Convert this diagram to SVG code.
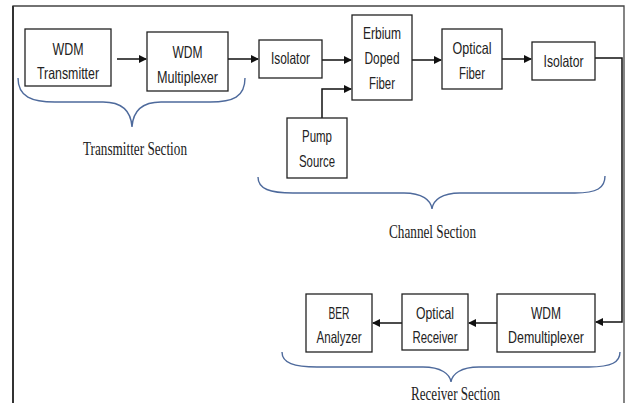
<svg xmlns="http://www.w3.org/2000/svg" width="627" height="403" viewBox="0 0 627 403">
<style>
.box{fill:#fff;stroke:#222;stroke-width:1.3}
.t{font-family:"Liberation Sans Narrow","Liberation Sans",Arial,sans-serif;font-size:16.5px;fill:#222;text-anchor:middle}
.s{font-family:"Liberation Serif","Times New Roman",serif;font-size:18px;fill:#222;text-anchor:middle}
.c{fill:none;stroke:#111;stroke-width:1.5}
.br{fill:none;stroke:#4e6a9c;stroke-width:1.4}
</style>
<defs>
<marker id="ah" markerWidth="8" markerHeight="8" refX="7" refY="4" orient="auto" markerUnits="userSpaceOnUse">
<path d="M0,0 L8,4 L0,8 Z" fill="#111"/>
</marker>
</defs>
<rect width="627" height="403" fill="#fff"/>
<g id="frame">
<path d="M13,403 L13,6 L624,6 L624,403" fill="none" stroke="#444" stroke-width="1.3"/>
<line x1="13" y1="6" x2="13" y2="403" stroke="#333" stroke-width="2"/>
</g>
<g id="connectors">
<line class="c" x1="117" y1="59" x2="146" y2="59" marker-end="url(#ah)"/>
<line class="c" x1="228" y1="59" x2="258" y2="59" marker-end="url(#ah)"/>
<line class="c" x1="322" y1="60" x2="351" y2="60" marker-end="url(#ah)"/>
<polyline class="c" points="322,118 322,89 351,89" marker-end="url(#ah)"/>
<line class="c" x1="412" y1="60" x2="441" y2="60" marker-end="url(#ah)"/>
<line class="c" x1="502" y1="59" x2="531" y2="59" marker-end="url(#ah)"/>
<polyline class="c" points="595,58 622,58 622,322 596,322" marker-end="url(#ah)"/>
<line class="c" x1="497" y1="323" x2="469" y2="323" marker-end="url(#ah)"/>
<line class="c" x1="402" y1="323" x2="373" y2="323" marker-end="url(#ah)"/>
</g>
<g id="wdm-transmitter">
<rect class="box" x="25" y="29" width="86" height="57"/>
<text class="t" x="68" y="55" textLength="31" lengthAdjust="spacingAndGlyphs">WDM</text>
<text class="t" x="68" y="79" textLength="62" lengthAdjust="spacingAndGlyphs">Transmitter</text>
</g>
<g id="wdm-multiplexer">
<rect class="box" x="147" y="32" width="81" height="59"/>
<text class="t" x="187.5" y="57.5" textLength="30" lengthAdjust="spacingAndGlyphs">WDM</text>
<text class="t" x="187.5" y="83" textLength="61" lengthAdjust="spacingAndGlyphs">Multiplexer</text>
</g>
<g id="isolator-1">
<rect class="box" x="259" y="40" width="63" height="38"/>
<text class="t" x="290.5" y="64" textLength="39" lengthAdjust="spacingAndGlyphs">Isolator</text>
</g>
<g id="erbium-doped-fiber">
<rect class="box" x="352" y="15" width="60" height="85"/>
<text class="t" x="382" y="39" textLength="38" lengthAdjust="spacingAndGlyphs">Erbium</text>
<text class="t" x="382" y="64" textLength="35" lengthAdjust="spacingAndGlyphs">Doped</text>
<text class="t" x="382" y="89" textLength="26" lengthAdjust="spacingAndGlyphs">Fiber</text>
</g>
<g id="optical-fiber">
<rect class="box" x="442" y="29" width="60" height="60"/>
<text class="t" x="472" y="54" textLength="39" lengthAdjust="spacingAndGlyphs">Optical</text>
<text class="t" x="472" y="79" textLength="26" lengthAdjust="spacingAndGlyphs">Fiber</text>
</g>
<g id="isolator-2">
<rect class="box" x="532" y="42" width="63" height="38"/>
<text class="t" x="563.5" y="67" textLength="40" lengthAdjust="spacingAndGlyphs">Isolator</text>
</g>
<g id="pump-source">
<rect class="box" x="287" y="118" width="60" height="60"/>
<text class="t" x="317" y="142" textLength="30" lengthAdjust="spacingAndGlyphs">Pump</text>
<text class="t" x="317" y="167" textLength="36" lengthAdjust="spacingAndGlyphs">Source</text>
</g>
<g id="ber-analyzer">
<rect class="box" x="306" y="294" width="66" height="58"/>
<text class="t" x="339" y="319" textLength="21" lengthAdjust="spacingAndGlyphs">BER</text>
<text class="t" x="339" y="343" textLength="45" lengthAdjust="spacingAndGlyphs">Analyzer</text>
</g>
<g id="optical-receiver">
<rect class="box" x="402" y="294" width="66" height="56"/>
<text class="t" x="435" y="319" textLength="38" lengthAdjust="spacingAndGlyphs">Optical</text>
<text class="t" x="435" y="343" textLength="45" lengthAdjust="spacingAndGlyphs">Receiver</text>
</g>
<g id="wdm-demultiplexer">
<rect class="box" x="497" y="294" width="98" height="58"/>
<text class="t" x="546" y="319" textLength="30" lengthAdjust="spacingAndGlyphs">WDM</text>
<text class="t" x="546" y="343" textLength="76" lengthAdjust="spacingAndGlyphs">Demultiplexer</text>
</g>
<g id="transmitter-section">
<path class="br" d="M18,78 C18,97 32,102 55,102 L103,102 C122,102 131,111 132,127 C133,111 142,102 161,102 L210,102 C233,102 245,97 245,78"/>
<text class="s" x="135" y="155" textLength="104" lengthAdjust="spacingAndGlyphs">Transmitter Section</text>
</g>
<g id="channel-section">
<path class="br" d="M258,177 C258,189 270,193 293,193 L404,193 C422,193 431,200 432,209 C433,200 442,193 460,193 L575,193 C597,193 605,188 605,176"/>
<text class="s" x="432.5" y="238" textLength="87" lengthAdjust="spacingAndGlyphs">Channel Section</text>
</g>
<g id="receiver-section">
<path class="br" d="M282,352 C282,363 294,367 317,367 L423,367 C441,367 450,374 451,382 C452,374 461,367 479,367 L589,367 C612,367 620,362 620,352"/>
<text class="s" x="455.5" y="400" textLength="89" lengthAdjust="spacingAndGlyphs">Receiver Section</text>
</g>
</svg>
